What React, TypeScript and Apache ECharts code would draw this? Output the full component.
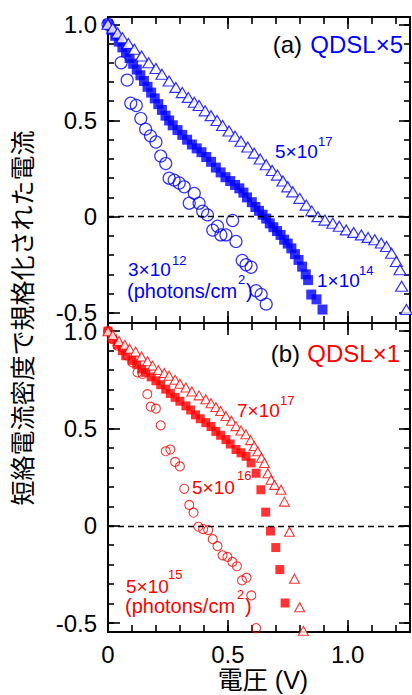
import React, { useEffect, useRef } from 'react';
import * as echarts from 'echarts';

// ---- tick values ----
const xMinorTicks = [0, 0.1, 0.2, 0.3, 0.4, 0.5, 0.6, 0.7, 0.8, 0.9, 1.0, 1.1, 1.2];
const xMajorTicks = [0, 0.5, 1.0];
const yMinorTicks = [-0.5, -0.4, -0.3, -0.2, -0.1, 0, 0.1, 0.2, 0.3, 0.4, 0.5, 0.6, 0.7, 0.8, 0.9, 1.0];
const yMajorTicks = [-0.5, 0, 0.5, 1.0];

// ---- panel (a) QDSL×5 (blue) ----
const blueTriangleData = [
  [0, 1.0], [0.02, 0.98], [0.04, 0.955], [0.06, 0.93], [0.085, 0.9], [0.11, 0.87], [0.14, 0.835],
  [0.17, 0.8], [0.2, 0.77], [0.225, 0.74], [0.255, 0.705], [0.283, 0.672], [0.31, 0.645], [0.335, 0.62],
  [0.36, 0.595], [0.38, 0.578], [0.405, 0.55], [0.43, 0.525], [0.455, 0.5], [0.478, 0.474], [0.505, 0.445],
  [0.53, 0.418], [0.555, 0.392], [0.583, 0.362], [0.61, 0.33], [0.635, 0.3], [0.66, 0.27], [0.685, 0.24],
  [0.707, 0.216], [0.73, 0.185], [0.75, 0.155], [0.771, 0.129], [0.8, 0.095], [0.827, 0.06], [0.85, 0.03],
  [0.876, 0.0], [0.905, -0.018], [0.938, -0.034], [0.965, -0.05], [0.994, -0.069], [1.025, -0.082],
  [1.057, -0.095], [1.085, -0.108], [1.113, -0.12], [1.14, -0.137], [1.162, -0.155], [1.183, -0.19],
  [1.203, -0.233], [1.218, -0.276], [1.225, -0.362], [1.245, -0.483],
];
const blueSquareData = [
  [0, 1.0], [0.015, 0.97], [0.03, 0.94], [0.045, 0.91], [0.06, 0.88], [0.075, 0.855], [0.09, 0.825],
  [0.105, 0.795], [0.12, 0.765], [0.135, 0.735], [0.15, 0.705], [0.165, 0.675], [0.18, 0.645],
  [0.195, 0.615], [0.21, 0.585], [0.225, 0.555], [0.24, 0.525], [0.255, 0.5], [0.27, 0.475], [0.29, 0.45],
  [0.31, 0.425], [0.33, 0.4], [0.35, 0.375], [0.37, 0.355], [0.39, 0.335], [0.41, 0.31], [0.43, 0.285],
  [0.45, 0.255], [0.47, 0.23], [0.49, 0.205], [0.51, 0.185], [0.53, 0.165], [0.548, 0.147], [0.565, 0.125],
  [0.58, 0.1], [0.6, 0.075], [0.615, 0.05], [0.63, 0.03], [0.645, 0.01], [0.66, -0.01], [0.675, -0.035],
  [0.69, -0.055], [0.705, -0.075], [0.72, -0.095], [0.735, -0.12], [0.75, -0.14], [0.765, -0.165],
  [0.78, -0.195], [0.795, -0.225], [0.81, -0.26], [0.825, -0.3], [0.835, -0.33], [0.848, -0.405],
  [0.87, -0.43], [0.895, -0.483],
];
const blueCircleData = [
  [0, 1.0], [0.055, 0.8], [0.08, 0.71], [0.095, 0.59], [0.118, 0.578], [0.137, 0.51], [0.157, 0.455],
  [0.177, 0.42], [0.2, 0.388], [0.22, 0.315], [0.241, 0.276], [0.255, 0.2], [0.276, 0.19], [0.297, 0.175],
  [0.318, 0.155], [0.36, 0.121], [0.339, 0.07], [0.38, 0.07], [0.395, 0.028], [0.415, 0.009],
  [0.457, -0.05], [0.437, -0.07], [0.471, -0.095], [0.492, -0.095], [0.52, -0.02], [0.534, -0.129],
  [0.56, -0.228], [0.576, -0.25], [0.597, -0.263], [0.618, -0.385], [0.639, -0.405], [0.66, -0.455],
];

// ---- panel (b) QDSL×1 (red) ----
const redTriangleData = [
  [0, 1.0], [0.02, 0.98], [0.046, 0.95], [0.07, 0.93], [0.09, 0.91], [0.115, 0.895], [0.14, 0.87],
  [0.165, 0.845], [0.186, 0.823], [0.21, 0.8], [0.235, 0.785], [0.255, 0.771], [0.28, 0.75], [0.3, 0.73],
  [0.325, 0.711], [0.35, 0.69], [0.38, 0.67], [0.408, 0.65], [0.43, 0.63], [0.45, 0.61], [0.47, 0.59],
  [0.492, 0.564], [0.515, 0.54], [0.534, 0.512], [0.555, 0.49], [0.575, 0.47], [0.595, 0.44], [0.61, 0.41],
  [0.625, 0.383], [0.64, 0.35], [0.653, 0.323], [0.667, 0.27], [0.68, 0.236], [0.695, 0.21],
  [0.722, 0.185], [0.736, 0.124], [0.757, -0.031], [0.778, -0.272], [0.8, -0.419], [0.815, -0.54],
];
const redSquareData = [
  [0, 1.0], [0.02, 0.96], [0.04, 0.93], [0.06, 0.9], [0.074, 0.874], [0.1, 0.85], [0.12, 0.83],
  [0.14, 0.805], [0.157, 0.788], [0.18, 0.765], [0.2, 0.745], [0.22, 0.725], [0.241, 0.702], [0.26, 0.68],
  [0.28, 0.66], [0.3, 0.64], [0.325, 0.616], [0.345, 0.595], [0.365, 0.57], [0.385, 0.55], [0.408, 0.53],
  [0.43, 0.51], [0.45, 0.485], [0.47, 0.465], [0.492, 0.443], [0.51, 0.42], [0.534, 0.392], [0.555, 0.375],
  [0.576, 0.357], [0.597, 0.323], [0.618, 0.27], [0.638, 0.185], [0.658, 0.07], [0.678, -0.027],
  [0.7, -0.112], [0.717, -0.225], [0.739, -0.397],
];
const redCircleData = [
  [0, 1.0], [0.018, 0.96], [0.039, 0.926], [0.06, 0.918], [0.081, 0.874], [0.102, 0.84], [0.123, 0.788],
  [0.144, 0.78], [0.164, 0.676], [0.178, 0.612], [0.2, 0.602], [0.22, 0.516], [0.241, 0.383], [0.26, 0.392],
  [0.28, 0.328], [0.3, 0.305], [0.318, 0.19], [0.339, 0.107], [0.357, 0.067], [0.377, -0.005],
  [0.397, -0.017], [0.418, -0.022], [0.437, -0.069], [0.457, -0.105], [0.478, -0.152], [0.498, -0.16],
  [0.519, -0.186], [0.538, -0.208], [0.559, -0.281], [0.578, -0.267], [0.598, -0.358], [0.618, -0.526],
];

const BLUE = '#0000ff';
const RED = '#ff0000';
const FONT = '"Liberation Sans", Arial, "Noto Sans CJK JP", sans-serif';

const fmt = (v: number) => (Math.abs(v) < 1e-9 ? '0' : v.toFixed(1));

function xAx(grid: number, position: string, ticks: number[], len: number, line: boolean, labels: boolean) {
  return {
    type: 'value', gridIndex: grid, position, min: 0, max: 1.26,
    axisLine: { show: line, onZero: false, lineStyle: { color: '#000', width: 2 } },
    axisTick: { show: true, inside: true, length: len, customValues: ticks, lineStyle: { color: '#000', width: 1.6 } },
    axisLabel: labels
      ? { show: true, customValues: xMajorTicks, formatter: fmt, fontSize: 24, color: '#000', fontFamily: FONT, margin: 10 }
      : { show: false },
    splitLine: { show: false },
  };
}
function yAx(grid: number, position: string, min: number, max: number, ticks: number[], len: number, line: boolean, labels: boolean) {
  return {
    type: 'value', gridIndex: grid, position, min, max,
    axisLine: { show: line, onZero: false, lineStyle: { color: '#000', width: 2 } },
    axisTick: { show: true, inside: true, length: len, customValues: ticks, lineStyle: { color: '#000', width: 1.6 } },
    axisLabel: labels
      ? { show: true, customValues: yMajorTicks, formatter: fmt, fontSize: 24, color: '#000', fontFamily: FONT, margin: 11 }
      : { show: false },
    splitLine: { show: false },
  };
}

function txt(text: string, x: number, y: number, size: number, color: string, align = 'left', rotation = 0) {
  return {
    type: 'text', x, y, rotation, z: 100,
    style: { text, fill: color, fontSize: size, fontFamily: FONT, textAlign: align, textVerticalAlign: 'middle' },
  };
}

const zeroLine = {
  silent: true, symbol: ['none', 'none'], label: { show: false },
  lineStyle: { color: '#000', type: [6, 4], width: 1.4 },
  data: [{ yAxis: 0 }],
};

export default function App() {
  const ref = useRef<HTMLDivElement>(null);
  useEffect(() => {
    const chart = echarts.init(ref.current!, null, { renderer: 'svg' });
    const T0 = [-0.553, 1.038];
    const T1 = [-0.546, 1.042];
    chart.setOption({
      animation: false,
      backgroundColor: '#fff',
      grid: [
        { left: 108, top: 17, width: 302, height: 306 },
        { left: 108, top: 323, width: 302, height: 309 },
      ],
      xAxis: [
        xAx(0, 'bottom', xMinorTicks, 7, true, false),
        xAx(0, 'bottom', xMajorTicks, 12, false, false),
        xAx(0, 'top', xMinorTicks, 7, true, false),
        xAx(0, 'top', xMajorTicks, 12, false, false),
        xAx(1, 'bottom', xMinorTicks, 7, true, true),
        xAx(1, 'bottom', xMajorTicks, 12, false, false),
        xAx(1, 'top', xMinorTicks, 7, true, false),
        xAx(1, 'top', xMajorTicks, 12, false, false),
      ],
      yAxis: [
        yAx(0, 'left', T0[0], T0[1], yMinorTicks, 6, true, true),
        yAx(0, 'left', T0[0], T0[1], yMajorTicks, 12, false, false),
        yAx(0, 'right', T0[0], T0[1], yMinorTicks, 6, true, false),
        yAx(0, 'right', T0[0], T0[1], yMajorTicks, 11, false, false),
        yAx(1, 'left', T1[0], T1[1], yMinorTicks, 6, true, true),
        yAx(1, 'left', T1[0], T1[1], yMajorTicks, 12, false, false),
        yAx(1, 'right', T1[0], T1[1], yMinorTicks, 6, true, false),
        yAx(1, 'right', T1[0], T1[1], yMajorTicks, 11, false, false),
      ],
      series: [
        {
          type: 'scatter', xAxisIndex: 0, yAxisIndex: 0, data: blueSquareData, symbol: 'rect', symbolSize: 10,
          itemStyle: { color: BLUE }, markLine: zeroLine,
        },
        {
          type: 'scatter', xAxisIndex: 0, yAxisIndex: 0, data: blueCircleData, symbol: 'circle', symbolSize: 12,
          itemStyle: { color: 'rgba(255,255,255,0)', borderColor: BLUE, borderWidth: 1.2 },
        },
        {
          type: 'scatter', xAxisIndex: 0, yAxisIndex: 0, data: blueTriangleData, symbol: 'triangle', symbolSize: [12, 10],
          itemStyle: { color: '#fff', borderColor: BLUE, borderWidth: 1.2 },
        },
        {
          type: 'scatter', xAxisIndex: 4, yAxisIndex: 4, data: redSquareData, symbol: 'rect', symbolSize: 9,
          itemStyle: { color: RED }, markLine: zeroLine,
        },
        {
          type: 'scatter', xAxisIndex: 4, yAxisIndex: 4, data: redCircleData, symbol: 'circle', symbolSize: 9,
          itemStyle: { color: 'rgba(255,255,255,0)', borderColor: RED, borderWidth: 1.1 },
        },
        {
          type: 'scatter', xAxisIndex: 4, yAxisIndex: 4, data: redTriangleData, symbol: 'triangle', symbolSize: [10, 9],
          itemStyle: { color: '#fff', borderColor: RED, borderWidth: 1.1 },
        },
      ],
      graphic: [
        txt('(a)', 302, 44, 24, '#000', 'right'),
        txt('QDSL×5', 403, 44, 24, BLUE, 'right'),
        txt('5×10', 275, 151, 19, BLUE),
        txt('17', 318, 141, 13, BLUE),
        txt('1×10', 317, 280, 19, BLUE),
        txt('14', 359, 270, 13, BLUE),
        txt('3×10', 128, 269, 19, BLUE),
        txt('12', 172, 260, 13, BLUE),
        txt('(photons/cm', 127, 291, 20, BLUE),
        txt('2', 238, 279, 13, BLUE),
        txt(')', 246, 291, 20, BLUE),
        txt('(b)', 300, 353, 24, '#000', 'right'),
        txt('QDSL×1', 400, 353, 24, RED, 'right'),
        txt('7×10', 237, 410, 19, RED),
        txt('17', 280, 400, 13, RED),
        txt('5×10', 192, 487, 19, RED),
        txt('16', 237, 475, 13, RED),
        txt('5×10', 126, 586, 19, RED),
        txt('15', 168, 574, 13, RED),
        txt('(photons/cm', 125, 606, 20, RED),
        txt('2', 237, 594, 13, RED),
        txt(')', 245, 606, 20, RED),
        txt('電圧 (V)', 263, 680, 25, '#000', 'center'),
        txt('短絡電流密度で規格化された電流', 23, 318, 25, '#000', 'center', Math.PI / 2),
      ],
    });
    return () => chart.dispose();
  }, []);
  return <div ref={ref} style={{ position: 'absolute', left: 0, top: 0, width: 412, height: 695 }} />;
}
